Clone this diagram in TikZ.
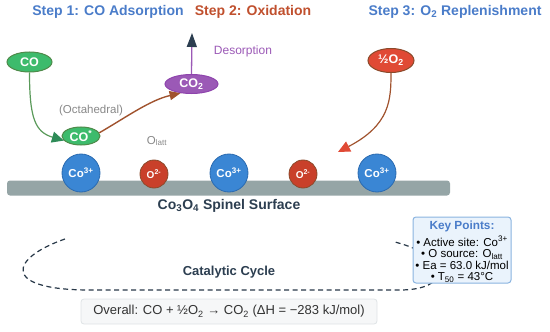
\documentclass[tikz,border=0pt]{standalone}
\usepackage{fontspec}
\setmainfont{Liberation Sans}
\usetikzlibrary{arrows.meta,shapes.geometric}
\definecolor{stepblue}{HTML}{4A7CC9}
\definecolor{stepred}{HTML}{C0502E}
\definecolor{cogreen}{HTML}{3DBB6C}
\definecolor{coborder}{HTML}{4F8A4A}
\definecolor{greenline}{HTML}{5A9A5A}
\definecolor{greentip}{HTML}{2E8B57}
\definecolor{purp}{HTML}{9B59B6}
\definecolor{purpborder}{HTML}{8E44AD}
\definecolor{navy}{HTML}{2C3E50}
\definecolor{brownline}{HTML}{A0522D}
\definecolor{oxred}{HTML}{E04A35}
\definecolor{ored}{HTML}{C9402A}
\definecolor{oborder}{HTML}{8B4A2B}
\definecolor{coblue}{HTML}{3A86D4}
\definecolor{coblueborder}{HTML}{2A6AB0}
\definecolor{surf}{HTML}{95A5A6}
\definecolor{darktext}{HTML}{2C3E50}
\definecolor{graytext}{HTML}{888888}
\definecolor{keyfill}{HTML}{EAF3FC}
\definecolor{keyborder}{HTML}{8AB4E0}
\definecolor{ovfill}{HTML}{F6F7F8}
\definecolor{ovborder}{HTML}{DFE3E6}
\begin{document}
\begin{tikzpicture}[x=1pt,y=-1pt,
  font=\fontsize{10}{12}\selectfont,
  title/.style={font=\bfseries\fontsize{14}{16}\selectfont, inner sep=0},
  spec/.style={ellipse, inner sep=0, text=white, font=\bfseries\fontsize{12.5}{14}\selectfont, line width=1pt},
  atom/.style={circle, inner sep=0, text=white, font=\bfseries\fontsize{11.5}{13}\selectfont, line width=0.8pt},
  cobalt/.style={atom, fill=coblue, draw=coblueborder, minimum size=38pt},
  oxy/.style={atom, fill=ored, draw=oborder, minimum size=28pt, font=\bfseries\fontsize{10}{12}\selectfont},
  lbl/.style={inner sep=0, text=graytext, font=\fontsize{11.5}{13}\selectfont},
  cycle/.style={draw=darktext!90!black, line width=1.2pt, dash pattern=on 5pt off 3.5pt}
]
\useasboundingbox (0,0) rectangle (550,332);

% titles
\node[title, text=stepblue] (s1) at (108,12) {Step 1: CO Adsorption};
\node[title, text=stepred] (s2) at (253,12) {Step 2: Oxidation};
\node[title, text=stepblue] (s3) at (455,12) {Step 3: O\textsubscript{2} Replenishment};

% cycle (drawn first, partly hidden by key box)
\draw[cycle] (65,239) .. controls (10,258) and (0,290) .. (90,290)
  -- (400,290) .. controls (450,290) and (455,258) .. (395,242);

% surface
\node[fill=surf, rounded corners=3pt, minimum width=443pt, minimum height=15pt, inner sep=0] (bar) at (228.5,188) {};
\node[cobalt] (c1) at (81,173) {Co\textsuperscript{3+}};
\node[oxy] (o1) at (154,174) {O\textsuperscript{2-}};
\node[cobalt] (c2) at (229,173) {Co\textsuperscript{3+}};
\node[oxy] (o2) at (303,174) {O\textsuperscript{2-}};
\node[cobalt] (c3) at (377,173) {Co\textsuperscript{3+}};
\node[inner sep=0, text=darktext, font=\bfseries\fontsize{14}{16}\selectfont] (surflbl) at (229,206) {Co\textsubscript{3}O\textsubscript{4} Spinel Surface};

% species
\node[spec, fill=cogreen, draw=coborder, minimum width=45pt, minimum height=20pt] (co) at (29.5,62) {CO};
\node[spec, fill=cogreen, draw=coborder, minimum width=38pt, minimum height=18pt] (cos) at (81,136) {CO\textsuperscript{*}};
\node[spec, fill=purp, draw=purpborder, minimum width=53pt, minimum height=19pt] (co2) at (191.5,84) {CO\textsubscript{2}};
\node[spec, fill=oxred, draw=oborder, minimum width=46pt, minimum height=24pt] (half) at (391,60.5) {½O\textsubscript{2}};

% labels
\node[lbl] (oct) at (91,111) {(Octahedral)};
\node[lbl] (olatt) at (157,141) {O\textsubscript{latt}};
\node[inner sep=0, text=purp, font=\fontsize{12}{14}\selectfont] (desorb) at (243,51) {Desorption};

% arrows
\coordinate (top) at (192,33);
\coordinate (otip) at (338,152);
\draw[greenline, line width=1.2pt, -{Triangle[length=12pt,width=11pt,color=greentip]}]
  (co.south) .. controls (29.5,118) and (35,132) .. (cos.195);
\draw[brownline, line width=1.4pt, -{Triangle[length=11pt,width=9pt]}]
  (cos.10) .. controls (125,118) and (150,100) .. (co2.220);
\draw[purp, line width=1.3pt, -{Triangle[length=14pt,width=10pt,color=navy]}]
  (co2.north) -- (top);
\draw[brownline, line width=1.2pt, -{Triangle[length=12pt,width=11pt,color=oxred]}]
  (half.south) .. controls (391,100) and (390,125) .. (otip);

% key points box
\node[draw=keyborder, fill=keyfill, line width=1pt, rounded corners=3pt, minimum width=98pt, minimum height=66pt, inner sep=0] (key) at (462,250) {};
\node[inner sep=0, align=center, font=\fontsize{11.5}{11.5}\selectfont, text=black] (keytxt) at (462,252)
  {{\bfseries\fontsize{11.8}{14}\selectfont\color{stepblue}Key Points:}\\[3pt]
   • Active site: Co\textsuperscript{3+}\\
   • O source: O\textsubscript{latt}\\
   • Ea = 63.0 kJ/mol\\
   • T\textsubscript{50} = 43°C};

\node[inner sep=0, text=darktext, font=\bfseries\fontsize{13}{15}\selectfont] (cyclbl) at (229,272) {Catalytic Cycle};

% overall box
\node[draw=ovborder, fill=ovfill, line width=0.8pt, rounded corners=3pt, minimum width=296pt, minimum height=25pt, inner sep=0, text=black!80, font=\fontsize{13}{15}\selectfont] (overall) at (229,311.5)
  {Overall: CO + ½O\textsubscript{2} → CO\textsubscript{2} (ΔH = −283 kJ/mol)};
\end{tikzpicture}
\end{document}
